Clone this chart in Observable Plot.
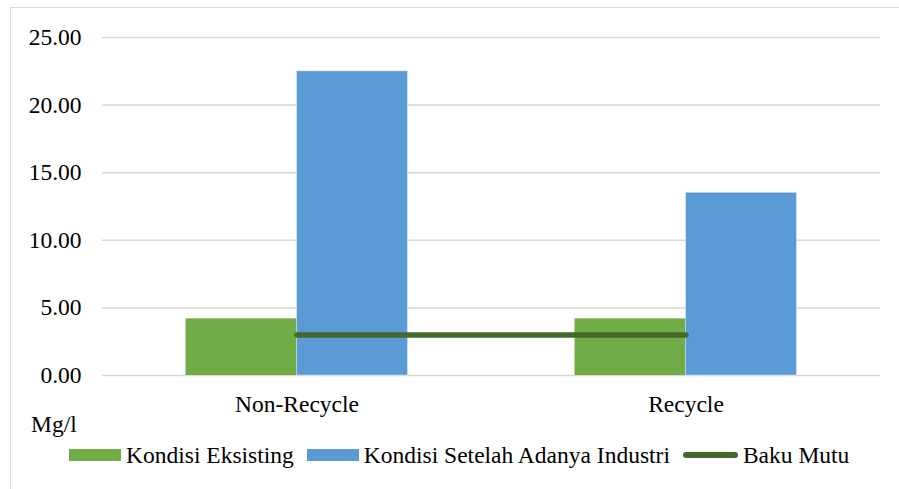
<!DOCTYPE html>
<html>
<head>
<meta charset="utf-8">
<script src="https://cdn.jsdelivr.net/npm/d3@7"></script>
<script src="https://cdn.jsdelivr.net/npm/@observablehq/plot@0.6"></script>
<style>
  html, body { margin: 0; padding: 0; background: #fff; }
  * { font-family: 'Liberation Serif', 'Times New Roman', serif !important; }
  #wrap { position: relative; width: 899px; height: 489px; overflow: hidden; color: #000; }
  #frame { position: absolute; left: 10px; top: 7px; width: 900px; height: 490px;
           border-top: 1.5px solid #d9d9d9; border-left: 1.5px solid #d9d9d9; }
  #chart { position: absolute; left: 0; top: 0; }
  #unit { position: absolute; left: 31px; top: 412px; font-size: 23.5px; line-height: 24px; }
  #legend { position: absolute; left: 69px; top: 443px; height: 24px; display: flex;
            align-items: center; font-size: 23.5px; line-height: 24px; white-space: nowrap; }
  .item { display: flex; align-items: center; margin-right: 13px; }
  .sw { display: inline-block; width: 52px; height: 12px; margin-right: 5px; }
  .ln { display: inline-block; width: 55px; height: 5.5px; border-radius: 3px; margin-right: 5px; }
</style>
</head>
<body>
<div id="wrap">
  <div id="frame"></div>
  <div id="chart"></div>
  <div id="unit">Mg/l</div>
  <div id="legend"></div>
</div>
<script>
// Groups along the x axis
const categories = ["Non-Recycle", "Recycle"];
// Series names
const seriesNames = ["Kondisi Eksisting", "Kondisi Setelah Adanya Industri", "Baku Mutu"];
// Concentration (Mg/l) per group
const kondisiEksisting = [4.19, 4.19];
const kondisiSetelahIndustri = [22.5, 13.51];
const bakuMutu = [3.0, 3.0];
// Y axis ticks
const yTicks = [0, 5, 10, 15, 20, 25];

const colors = ["#70AD47", "#5B9BD5", "#44692C"];
const serif = "'Liberation Serif', 'Times New Roman', serif";

const eksisting = categories.map((c, i) => ({c, v: kondisiEksisting[i]}));
const setelah = categories.map((c, i) => ({c, v: kondisiSetelahIndustri[i]}));
const baku = categories.map((c, i) => ({c, v: bakuMutu[i]}));

// each bar takes 111px of a 389px group, side by side around the group centre
const barW = 111, outer = (389 - 2 * barW) / 2;

const chart = Plot.plot({
  width: 899,
  height: 425,
  marginTop: 37,
  marginBottom: 50,
  marginLeft: 102,
  marginRight: 19,
  style: {fontFamily: serif, fontSize: "23.5px", color: "#000", background: "transparent"},
  x: {domain: categories, padding: 0, label: null, tickSize: 0, tickPadding: 20},
  y: {domain: [0, 25], ticks: yTicks, tickFormat: d3.format(".2f"), label: null, tickSize: 0, tickPadding: 21},
  marks: [
    Plot.gridY(yTicks, {stroke: "#d9d9d9", strokeOpacity: 1, strokeWidth: 1.5}),
    Plot.barY(eksisting, {x: "c", y: "v", fill: colors[0], insetLeft: outer, insetRight: outer + barW}),
    Plot.barY(setelah, {x: "c", y: "v", fill: colors[1], insetLeft: outer + barW, insetRight: outer,
                        stroke: "#ffffff", strokeOpacity: 0.35, strokeWidth: 1}),
    Plot.lineY(baku, {x: "c", y: "v", stroke: colors[2], strokeWidth: 5.5, strokeLinecap: "round"})
  ]
});
document.getElementById("chart").append(chart);

// legend below the plot
const legend = document.getElementById("legend");
seriesNames.forEach((name, i) => {
  const item = document.createElement("span");
  item.className = "item";
  const sw = document.createElement("span");
  sw.className = i === 2 ? "ln" : "sw";
  sw.style.background = colors[i];
  item.append(sw, document.createTextNode(name));
  legend.append(item);
});

// keep every label in the serif face
document.querySelectorAll("#wrap, #wrap svg, #wrap svg g, #wrap svg text, #unit, #legend, #legend span")
  .forEach(el => {
    el.style.setProperty("font-family", serif, "important");
    if (el.tagName === "g" || el.tagName === "text" || el.tagName === "svg") el.setAttribute("font-family", serif);
  });
</script>
</body>
</html>
